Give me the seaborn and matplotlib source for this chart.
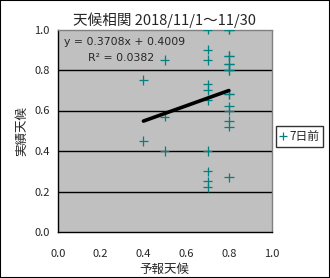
import numpy as np
import pandas as pd
import matplotlib
matplotlib.use("Agg")
import matplotlib.pyplot as plt
import seaborn as sns

# forecast accuracy (x) vs observed accuracy (y), one point per day
forecast = [0.4, 0.4,
            0.5, 0.5, 0.5,
            0.7, 0.7, 0.7, 0.7, 0.7, 0.7, 0.7, 0.7, 0.7, 0.7,
            0.8, 0.8, 0.8, 0.8, 0.8, 0.8, 0.8, 0.8, 0.8, 0.8,
            0.8, 0.8, 0.8, 0.8, 0.8]
actual = [0.75, 0.45,
          0.85, 0.57, 0.40,
          1.00, 0.90, 0.85, 0.73, 0.70, 0.65, 0.40, 0.30, 0.25, 0.22,
          1.00, 0.87, 0.83, 0.80, 0.68, 0.62, 0.60, 0.55, 0.52, 0.27,
          1.00, 0.87, 0.83, 0.80, 0.68]
series_name = "7日前"
title = "天候相関 2018/11/1～11/30"
eq_text = "y = 0.3708x + 0.4009"
r2_text = "R² = 0.0382"
ticks = [0.0, 0.2, 0.4, 0.6, 0.8, 1.0]
tick_labels = ["0.0", "0.2", "0.4", "0.6", "0.8", "1.0"]

df = pd.DataFrame({"forecast": forecast, "actual": actual, "series": series_name})

sns.set_style("white")
plt.rcParams['font.family'] = ['Noto Sans CJK JP', 'DejaVu Sans']

fig = plt.figure(figsize=(3.3, 2.78), dpi=100)
ax = fig.add_axes([58 / 330, 1 - 232 / 278, 213.6 / 330, 202.5 / 278])
ax.set_facecolor("#c0c0c0")

for yv in ticks[1:-1]:
    ax.axhline(yv, color="black", lw=1.0, zorder=1)

sns.scatterplot(data=df, x="forecast", y="actual", hue="series", palette=["#008080"],
                marker="+", s=45, linewidth=0.9, ax=ax, zorder=3)
sns.regplot(data=df, x="forecast", y="actual", scatter=False, ci=None, ax=ax,
            line_kws={"color": "black", "lw": 2.6, "zorder": 4})

ax.set_xlim(0, 1)
ax.set_ylim(0, 1)
ax.set_xticks(ticks)
ax.set_xticklabels(tick_labels)
ax.set_yticks(ticks)
ax.set_yticklabels(tick_labels)
ax.tick_params(axis="x", direction="out", length=4, width=1, color="black", labelsize=8, pad=8)
ax.tick_params(axis="y", direction="out", length=0, labelsize=8, pad=6)

for side in ["left", "bottom"]:
    ax.spines[side].set_color("black")
    ax.spines[side].set_linewidth(1.0)
for side in ["top", "right"]:
    ax.spines[side].set_color("#808080")
    ax.spines[side].set_linewidth(1.0)
    ax.spines[side].set_linestyle((0, (1, 1)))

ax.set_xlabel("予報天候", fontsize=9, labelpad=3)
ax.set_ylabel("実績天候", fontsize=9, labelpad=4)
ax.set_title(title, fontsize=10.5, pad=3)

ax.text(0.03, 0.938, eq_text, transform=ax.transAxes, fontsize=7.8, va="center",
        family=['DejaVu Sans'])
ax.text(0.14, 0.86, r2_text, transform=ax.transAxes, fontsize=7.8, va="center",
        family=['DejaVu Sans'])

handles, labels = ax.get_legend_handles_labels()
ax.legend_.remove()
leg = fig.legend(handles, labels, loc="center", bbox_to_anchor=(299.5 / 330, 1 - 136.5 / 278),
                 fontsize=8.5, frameon=True, fancybox=False, edgecolor="black",
                 handlelength=0.6, handletextpad=0.2, borderpad=0.3, markerscale=0.9)
leg.get_frame().set_linewidth(1.0)

fig.patches.append(plt.Rectangle((0, 0), 1, 1, transform=fig.transFigure, fill=False,
                                 edgecolor="black", lw=1.5))

fig.savefig("out.png", dpi=100)
